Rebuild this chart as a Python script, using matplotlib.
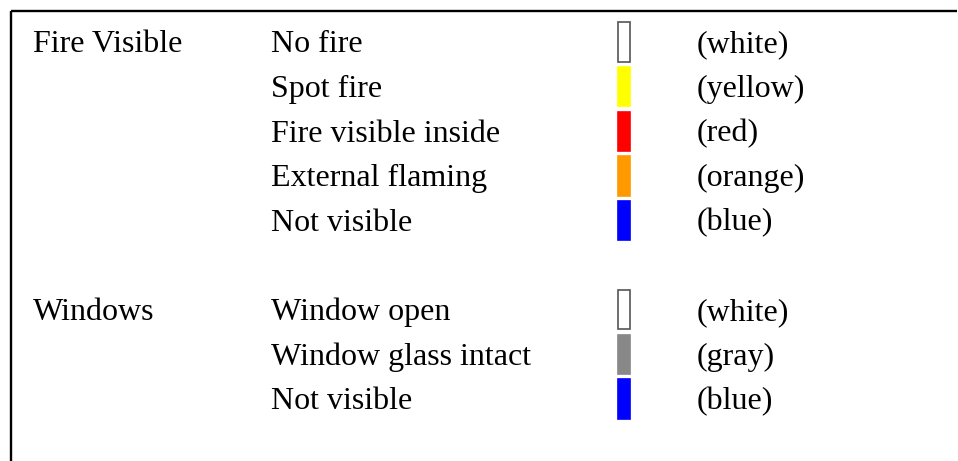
import matplotlib.pyplot as plt

plt.rcParams['font.family'] = ['Liberation Serif', 'DejaVu Serif']

# legend content
groups = ["Fire Visible", "Windows"]
fire_items = ["No fire", "Spot fire", "Fire visible inside", "External flaming", "Not visible"]
fire_colors = ["#ffffff", "#ffff00", "#ff0000", "#ff9900", "#0000ff"]
fire_names = ["(white)", "(yellow)", "(red)", "(orange)", "(blue)"]
window_items = ["Window open", "Window glass intact", "Not visible"]
window_colors = ["#ffffff", "#888888", "#0000ff"]
window_names = ["(white)", "(gray)", "(blue)"]

W, H = 958, 461
fig = plt.figure(figsize=(W / 100, H / 100), dpi=100)
ax = fig.add_axes([0, 0, 1, 1])
ax.set_xlim(0, W)
ax.set_ylim(H, 0)
ax.axis('off')

# layout (pixels)
x_group, x_item, x_sw, x_name = 33, 271, 618, 697
sw_w, sw_h = 12.5, 39.5
base0, pitch = 52.3, 44.6
fs = 23

# frame: top and left edges only
ax.plot([11, 957], [11.5, 11.5], color='black', lw=1.7, solid_capstyle='butt')
ax.plot([11, 11], [11.5, H], color='black', lw=1.7, solid_capstyle='butt')

sections = [(groups[0], fire_items, fire_colors, fire_names, 0),
            (groups[1], window_items, window_colors, window_names, 6)]

for gname, items, colors, names, start in sections:
    ax.text(x_group, base0 + start * pitch, gname, fontsize=fs, va='baseline', ha='left')
    for j, (it, c, nm) in enumerate(zip(items, colors, names)):
        yb = base0 + (start + j) * pitch
        ax.text(x_item, yb, it, fontsize=fs, va='baseline', ha='left')
        ax.text(x_name, yb, nm, fontsize=fs, va='baseline', ha='left')
        edge = '#555555' if c == '#ffffff' else c
        ax.bar(x_sw, sw_h, width=sw_w, bottom=yb - 30, align='edge',
               color=c, edgecolor=edge, linewidth=1.2)

fig.savefig('out.png', dpi=100, facecolor='white')
